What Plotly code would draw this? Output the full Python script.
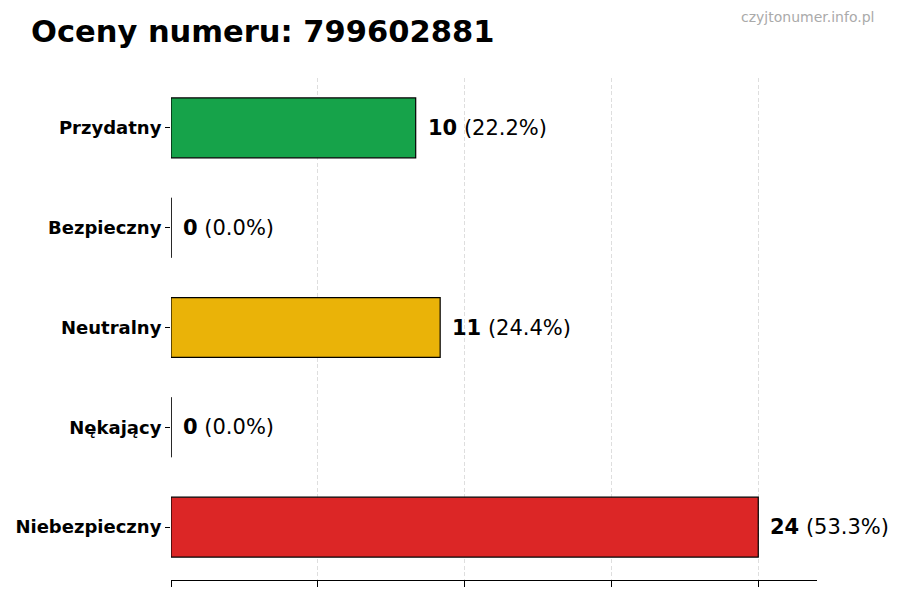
import plotly.graph_objects as go

# dane
categories = ["Przydatny", "Bezpieczny", "Neutralny", "Nękający", "Niebezpieczny"]
counts = [10, 0, 11, 0, 24]
colors = ["#16a34a", "#3b82f6", "#eab308", "#f97316", "#dc2626"]
phone = "799602881"
site = "czyjtonumer.info.pl"

total = sum(counts)
pcts = [c / total * 100 if total else 0 for c in counts]
xmax = max(counts) * 1.1

FONT = "DejaVu Sans"

fig = go.Figure()
fig.add_trace(go.Bar(
    x=counts,
    y=categories,
    orientation="h",
    width=0.6,
    marker=dict(color=colors, line=dict(color="black", width=1.2)),
    hoverinfo="x+y",
))

# cienka linia dla słupków zerowych (jak w matplotlib)
for i, c in enumerate(counts):
    if c == 0:
        fig.add_shape(type="line", xref="x", yref="y",
                      x0=0, x1=0, y0=i - 0.3, y1=i + 0.3,
                      line=dict(color="black", width=1.2))

# etykiety wartości
for cat, c, p in zip(categories, counts, pcts):
    fig.add_annotation(
        x=c, y=cat, xref="x", yref="y",
        text=f"<b>{c}</b> ({p:.1f}%)",
        showarrow=False, xanchor="left", xshift=10,
        font=dict(family=FONT, size=21, color="black"),
    )

fig.add_annotation(
    x=1.091, y=1.122, xref="paper", yref="paper",
    text=site, showarrow=False, xanchor="right", yanchor="middle",
    font=dict(family=FONT, size=14, color="#aaaaaa"),
)

# strona ma 8px marginesu body -> przesuwamy wszystko o 8px
fig.update_layout(
    width=900, height=600,
    title=dict(
        text=f"<b>Oceny numeru: {phone}</b>",
        x=23 / 900, xanchor="left", xref="container",
        y=1 - 23 / 600, yanchor="middle", yref="container",
        font=dict(family=FONT, size=30.5, color="black"),
    ),
    showlegend=False,
    plot_bgcolor="white",
    paper_bgcolor="white",
    margin=dict(l=163, r=91, t=70, b=28),
    font=dict(family=FONT, color="black"),
    bargap=0.4,
)

fig.update_xaxes(
    range=[0, xmax],
    tick0=0, dtick=6,
    showticklabels=False,
    ticks="outside", ticklen=6, tickcolor="black", tickwidth=1,
    showgrid=True, gridcolor="rgba(190,190,190,0.5)", griddash="4px,2.5px", gridwidth=1,
    zeroline=False,
    showline=True, linecolor="black", linewidth=1,
    layer="above traces",
    automargin=False,
)
fig.update_yaxes(
    categoryorder="array", categoryarray=categories,
    range=[len(categories) - 0.47, -0.50],
    ticks="outside", ticklen=5, tickcolor="black",
    tickfont=dict(family=FONT, size=18, color="black", weight="bold"),
    showgrid=False, zeroline=False, showline=False,
    automargin=False,
)

fig.write_html("out.html")
